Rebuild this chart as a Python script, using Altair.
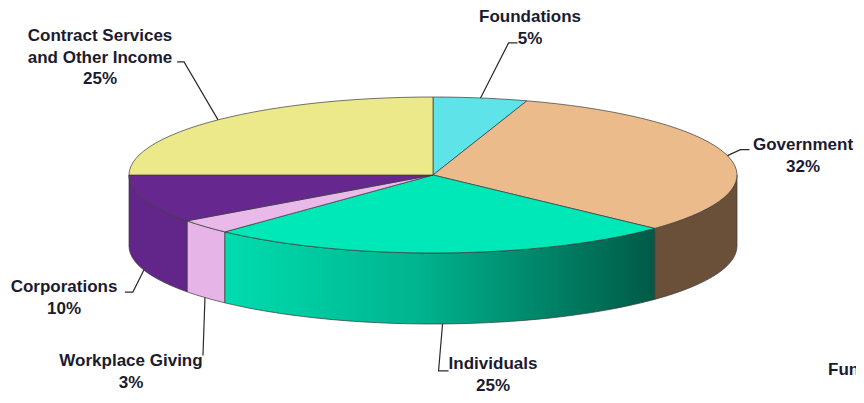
import math
import altair as alt

# ---------------- data ----------------
categories = ["Foundations", "Government", "Individuals", "Workplace Giving",
              "Corporations", "Contract Services and Other Income"]
shares = [5, 32, 25, 3, 10, 25]
label_lines = [["Foundations", "5%"], ["Government", "32%"], ["Individuals", "25%"],
               ["Workplace Giving", "3%"], ["Corporations", "10%"],
               ["Contract  Services", "and Other Income", "25%"]]

# ---------------- styles / layout ----------------
top_colors = ["#5ee4e8", "#ebbb8c", "#00e8b8", "#e9b9e9", "#66288f", "#ece98b"]
side_colors = ["#5ee4e8", "#6b5039", None, "#e6b4e6", "#62268b", "#ece98b"]
OFF = 8                       # page margin
CX, CY = 433 - OFF, 175 - OFF  # ellipse centre (chart coords)
RX, RY = 304, 78
DEPTH = 71
N = 60
TEXT_COLOR = "#1b1b30"
FONT = "Liberation Sans"
FS = 17
LINE_H = 21.5

# label text centres (page coords) and leader elbow offsets from the anchor
label_pos = [(530, 16), (803, 144), (493, 363), (131, 360), (64, 286), (100, 35)]
elbows = [[(28, -55), (37, -55)], [(13, -6), (22, -6)], [(-4, 47), (6, 47)],
          [(-2, 58)], [(-11, 22), (-19, 22)], [(-34, -58), (-41, -58)]]


def pt(theta, dy=0.0):
    return [CX + RX * math.sin(theta), CY - RY * math.cos(theta) + dy]


def arc(a, b, dy=0.0):
    n = max(2, int(N * (b - a) / math.pi) + 2)
    return [pt(a + (b - a) * i / (n - 1), dy) for i in range(n)]


total = float(sum(shares))
bounds = []
acc = 0.0
for s in shares:
    a = acc / total * 2 * math.pi
    acc += s
    b = acc / total * 2 * math.pi
    bounds.append((a, b))

top_feats, side_feats, grad_feats, leader_feats, text_rows = [], [], [], [], []
for i, (a, b) in enumerate(bounds):
    ring = [[CX, CY]] + arc(a, b) + [[CX, CY]]
    top_feats.append({"type": "Feature", "properties": {"color": top_colors[i]},
                      "geometry": {"type": "Polygon", "coordinates": [ring]}})
    lo, hi = max(a, math.pi / 2), min(b, 3 * math.pi / 2)
    if lo < hi:
        upper = arc(lo, hi)
        lower = arc(lo, hi, DEPTH)[::-1]
        ring = upper + lower + [upper[0]]
        f = {"type": "Feature", "properties": {"color": side_colors[i] or "#00b08c"},
             "geometry": {"type": "Polygon", "coordinates": [ring]}}
        (grad_feats if side_colors[i] is None else side_feats).append(f)
    mid = (a + b) / 2
    front = math.pi / 2 < mid < 3 * math.pi / 2
    anchor = pt(mid, DEPTH if front else 0)
    line = [anchor] + [[anchor[0] + dx, anchor[1] + dy] for dx, dy in elbows[i]]
    leader_feats.append({"type": "Feature", "properties": {},
                         "geometry": {"type": "LineString", "coordinates": line}})
    lx, ly = label_pos[i]
    for j, t in enumerate(label_lines[i]):
        text_rows.append({"x": lx - OFF, "y": ly - OFF + j * LINE_H + 1, "t": t})

proj = dict(type="identity", scale=1, translate=[0, 0])

sides = alt.Chart(alt.Data(values=side_feats)).mark_geoshape(
    stroke="#3a3a3a", strokeWidth=0.7).encode(
    fill=alt.Fill("properties.color:N", scale=None)).project(**proj)

grad = alt.Chart(alt.Data(values=grad_feats)).mark_geoshape(
    fill=alt.Gradient(gradient="linear", x1=0, x2=1, y1=0, y2=0,
                      stops=[alt.GradientStop(color="#00dcae", offset=0),
                             alt.GradientStop(color="#00b48f", offset=0.45),
                             alt.GradientStop(color="#005a46", offset=1)]),
    stroke="#3a3a3a", strokeWidth=0.7).encode(
    strokeOpacity=alt.value(1)).project(**proj)

tops = alt.Chart(alt.Data(values=top_feats)).mark_geoshape(
    stroke="#3a3a3a", strokeWidth=0.7).encode(
    fill=alt.Fill("properties.color:N", scale=None)).project(**proj)

leaders = alt.Chart(alt.Data(values=leader_feats)).mark_geoshape(
    filled=False, stroke="#2a2a2a", strokeWidth=1.2).encode(
    strokeOpacity=alt.value(1)).project(**proj)

texts = alt.Chart(alt.Data(values=text_rows)).mark_text(
    font=FONT, fontSize=FS, fontWeight="bold", color=TEXT_COLOR,
    align="center", baseline="middle").encode(
    longitude="x:Q", latitude="y:Q", text="t:N").project(**proj)

extra = alt.Chart(alt.Data(values=[{"x": 828 - OFF, "y": 370 - OFF, "t": "Funding Sources"}])).mark_text(
    font=FONT, fontSize=FS, fontWeight="bold", color=TEXT_COLOR,
    align="left", baseline="middle").encode(
    longitude="x:Q", latitude="y:Q", text="t:N").project(**proj)

chart = alt.layer(sides, grad, tops, leaders, texts, extra).properties(
    width=848, height=387, padding=0,
    autosize=alt.AutoSizeParams(type="none"),
    background="white").configure_view(strokeWidth=0)

chart.save("out.html", embed_options={"renderer": "svg", "actions": False})
